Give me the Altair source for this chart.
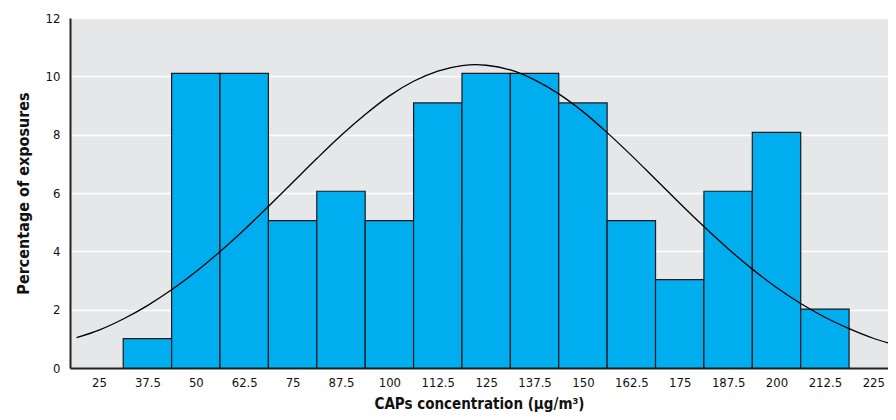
import altair as alt
import pandas as pd

# Histogram bins (centres, µg/m3) and percentage of exposures
bin_centers = [37.5, 50, 62.5, 75, 87.5, 100, 112.5, 125, 137.5, 150, 162.5, 175, 187.5, 200, 212.5]
percentages = [1.01, 10.1, 10.1, 5.05, 6.06, 5.05, 9.09, 10.1, 10.1, 9.09, 5.05, 3.03, 6.06, 8.08, 2.02]
bin_width = 12.5

# Fitted normal curve
curve_x = [19.2, 25, 31.25, 37.5, 43.75, 50, 56.25, 62.5, 68.75, 75, 81.25, 87.5, 93.75, 100,
           106.25, 112.5, 118.75, 122.3, 125, 131.25, 137.5, 143.75, 150, 156.25, 162.5, 168.75,
           175, 181.25, 187.5, 193.75, 200, 206.25, 212.5, 218.75, 225, 228.8]
curve_y = [1.04, 1.30, 1.68, 2.14, 2.68, 3.30, 3.99, 4.74, 5.54, 6.36, 7.18, 7.97, 8.69, 9.33,
           9.83, 10.18, 10.37, 10.40, 10.38, 10.22, 9.88, 9.40, 8.79, 8.07, 7.29, 6.47,
           5.65, 4.85, 4.09, 3.39, 2.76, 2.21, 1.74, 1.35, 1.02, 0.86]

x_ticks = [25, 37.5, 50, 62.5, 75, 87.5, 100, 112.5, 125, 137.5, 150, 162.5, 175, 187.5, 200, 212.5, 225]
y_ticks = [0, 2, 4, 6, 8, 10, 12]

bars = pd.DataFrame({"center": bin_centers, "pct": percentages})
bars["start"] = bars["center"] - bin_width / 2
bars["end"] = bars["center"] + bin_width / 2
curve = pd.DataFrame({"x": curve_x, "y": curve_y})

FONT = "DejaVu Sans Condensed, Roboto, sans-serif"

xscale = alt.Scale(domain=[17.5, 228.8], nice=False, zero=False)
yscale = alt.Scale(domain=[0, 12], nice=False)

xaxis = alt.Axis(values=x_ticks, labelExpr="'' + datum.value", ticks=False, grid=False,
                 title="CAPs concentration (µg/m³)", labelPadding=8, titlePadding=7,
                 domainColor="#222222", domainWidth=2, labelFont=FONT, labelFontSize=13,
                 labelColor="#111111", titleFont=FONT, titleFontSize=15, titleFontWeight="bold",
                 titleColor="#111111", labelFlush=False, labelOverlap=False)
yaxis = alt.Axis(values=y_ticks, ticks=False, grid=True, gridColor="#ffffff", gridWidth=1.5,
                 title="Percentage of exposures", labelPadding=10, titlePadding=14,
                 domainColor="#222222", domainWidth=2, labelFont=FONT, labelFontSize=13,
                 labelColor="#111111", titleFont=FONT, titleFontSize=16, titleFontWeight="bold",
                 titleColor="#111111")

bar_layer = alt.Chart(bars).mark_bar(color="#00aeef", stroke="#1a1a1a", strokeWidth=1.2).encode(
    x=alt.X("start:Q", scale=xscale, axis=xaxis),
    x2="end:Q",
    y=alt.Y("pct:Q", scale=yscale, axis=yaxis),
    y2=alt.datum(0),
)

line_layer = alt.Chart(curve).mark_line(color="#000000", strokeWidth=1.3, interpolate="monotone").encode(
    x=alt.X("x:Q", scale=xscale),
    y=alt.Y("y:Q", scale=yscale),
)

chart = alt.layer(bar_layer, line_layer).properties(
    width=818, height=350,
    autosize=alt.AutoSizeParams(type="none"),
    padding={"left": 62, "top": 10, "right": 0, "bottom": 44},
    background="#ffffff",
).configure_view(fill="#e6e7e9", stroke=None)

chart.save("out.html", embed_options={"renderer": "svg", "actions": False})
